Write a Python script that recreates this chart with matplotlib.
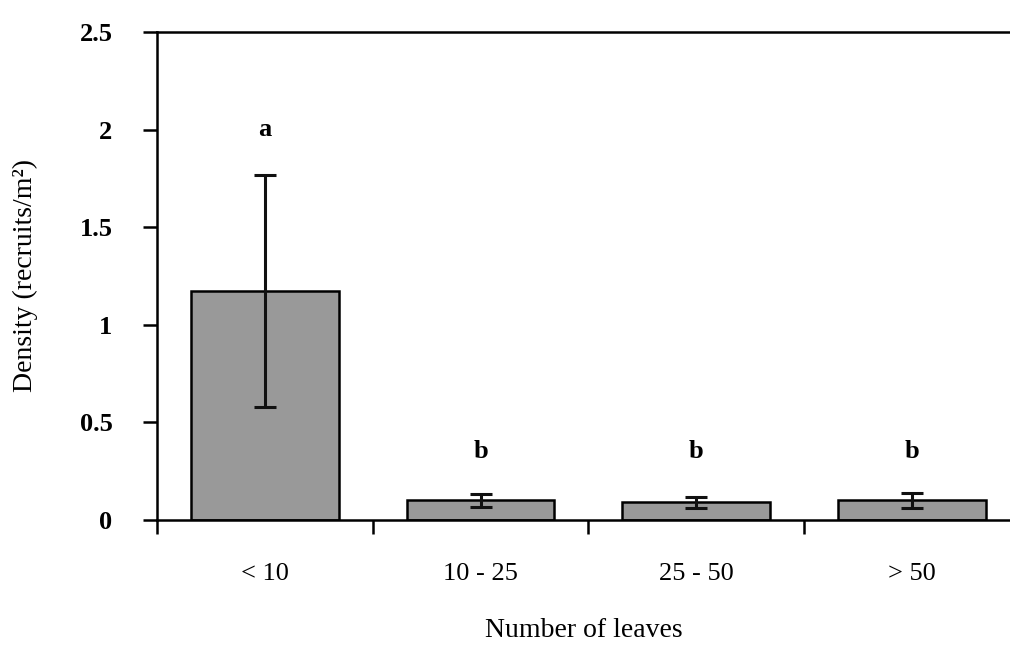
import matplotlib
matplotlib.use('Agg')
import matplotlib.pyplot as plt

plt.rcParams['font.family'] = ['Liberation Serif', 'DejaVu Serif']

categories = ['< 10', '10 - 25', '25 - 50', '> 50']
density = [1.173, 0.100, 0.090, 0.102]
errors = [0.595, 0.035, 0.030, 0.038]
letters = ['a', 'b', 'b', 'b']
letter_y = [2.0, 0.35, 0.35, 0.35]

fig = plt.figure(figsize=(10.10, 6.46), dpi=100)
ax = fig.add_axes([157 / 1010, 1 - 520 / 646, 1 - 157 / 1010, (520 - 32) / 646])

x = range(len(categories))
ax.bar(x, density, width=0.685, color='#999999', edgecolor='black', linewidth=1.8, zorder=2)
ax.errorbar(x, density, yerr=errors, fmt='none', ecolor='#111111', elinewidth=2.2,
            capsize=8, capthick=2.2, zorder=3)

for i, t in enumerate(letters):
    ax.text(i, letter_y[i], t, ha='center', va='center', fontsize=19, fontweight='bold')

ax.set_xlim(-0.5, 3.455)
ax.set_ylim(0, 2.5)
ax.set_yticks([0, 0.5, 1, 1.5, 2, 2.5])
ax.set_yticklabels(['0', '0.5', '1', '1.5', '2', '2.5'], fontsize=19, fontweight='bold')

# boundaries get the tick marks, centers get the labels
ax.set_xticks([-0.5, 0.5, 1.5, 2.5])
ax.set_xticklabels([])
ax.set_xticks(list(x), minor=True)
ax.set_xticklabels(categories, minor=True, fontsize=19)
ax.tick_params(axis='x', which='minor', length=0, pad=31)
ax.tick_params(axis='x', which='major', direction='out', length=10, width=1.8)
ax.tick_params(axis='y', direction='out', length=10, width=1.8, pad=22)

for side in ['left', 'bottom', 'top']:
    ax.spines[side].set_linewidth(1.8)
ax.spines['right'].set_visible(False)

ax.set_xlabel('Number of leaves', fontsize=20)
ax.xaxis.set_label_coords(0.5, (520 - 618) / 488)
ax.set_ylabel('Density (recruits/m²)', fontsize=20)
ax.yaxis.set_label_coords((38 - 157) / 853, 0.5)

fig.savefig('out.png', dpi=100)
